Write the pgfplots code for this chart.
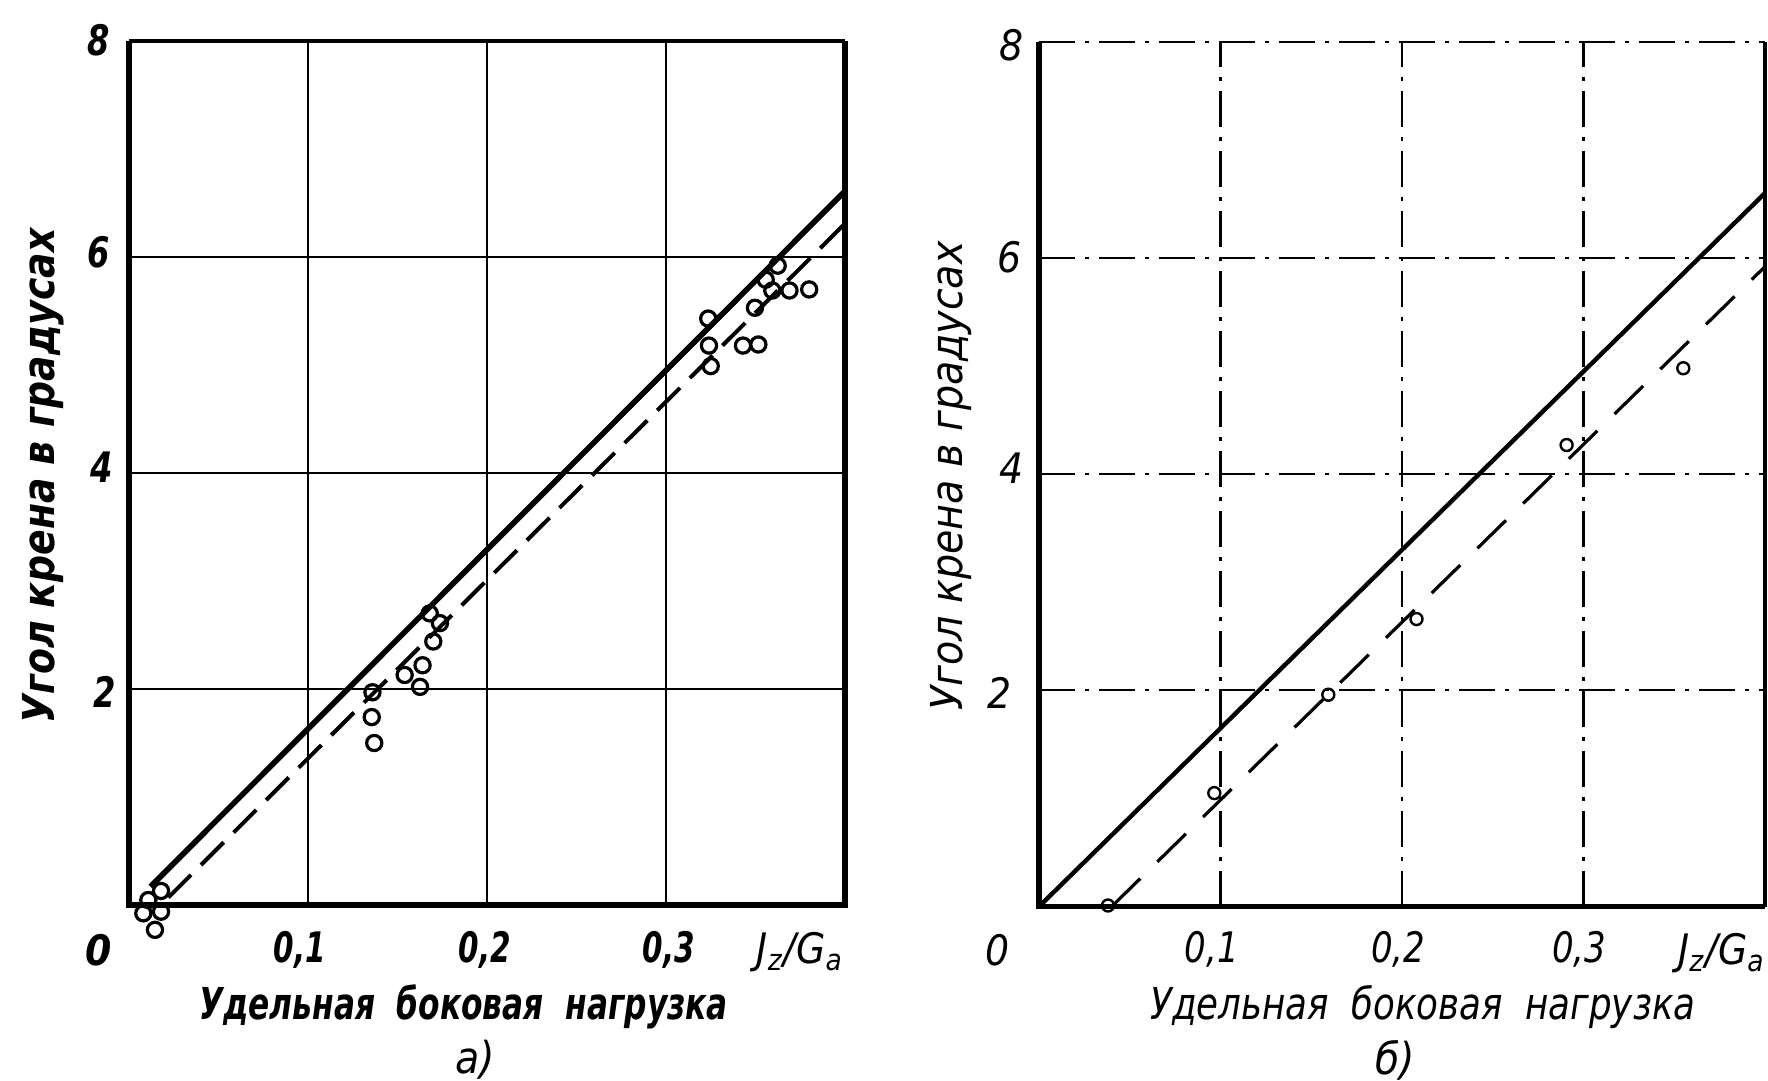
\documentclass[border=0pt]{standalone}
\usepackage{fontspec}
\setmainfont{DejaVu Sans Condensed}
\usepackage{graphicx}
\usepackage{pgfplots}
\pgfplotsset{compat=1.18}
\tikzset{dashdot/.style={dash pattern=on 9pt off 2.5pt on 1pt off 2.5pt}}
\newcommand{\nx}[2]{\scalebox{#1}[1]{#2}}
\begin{document}
\begin{tikzpicture}
\useasboundingbox (0,0) rectangle (442pt,270.25pt);
% ---------------- left panel (a) ----------------
\begin{axis}[at={(32.25pt,44pt)}, anchor=south west, scale only axis,
  width=179pt, height=216pt, xmin=0, xmax=0.4, ymin=0, ymax=8,
  xtick={0.1,0.2,0.3}, ytick={2,4,6,8}, xticklabels={}, yticklabels={},
  major tick length=0pt, grid=major, major grid style={black, line width=0.7pt},
  axis line style={draw=none}, clip=false]
\addplot[black, line width=1.4pt] coordinates {(0.012,0.17) (0.4,6.61)};
\addplot[black, line width=1pt, dash pattern=on 8pt off 3.5pt] coordinates {(0.022,0.07) (0.4,6.31)};
\addplot[only marks, mark=o, mark size=1.9pt, mark options={black, line width=0.8pt, fill=white}] coordinates {
 (0.0108,0.046) (0.0179,0.13) (0.008,-0.077) (0.0179,-0.062) (0.0145,-0.23)
 (0.168,2.70) (0.1737,2.61) (0.170,2.44) (0.164,2.22) (0.154,2.13) (0.1626,2.02)
 (0.136,1.97) (0.1356,1.74) (0.137,1.50)
 (0.3624,5.92) (0.3557,5.79) (0.3594,5.69) (0.369,5.69) (0.380,5.70) (0.3497,5.53)
 (0.3236,5.43) (0.324,5.18) (0.325,4.99) (0.343,5.18) (0.3516,5.19)};
\draw[black, line width=1.4pt] (rel axis cs:0,1) -- (rel axis cs:0,0) -- (rel axis cs:1,0) -- (rel axis cs:1,1);
\draw[black, line width=0.8pt] (rel axis cs:0,1) -- (rel axis cs:1,1);
\begin{scope}[every node/.style={font=\bfseries\itshape\fontsize{10.5}{12}\selectfont, inner sep=0pt}]
\node at (axis cs:0.0955,-0.417) {\nx{0.78}{0,1}};
\node at (axis cs:0.1989,-0.417) {\nx{0.78}{0,2}};
\node at (axis cs:0.3017,-0.417) {\nx{0.78}{0,3}};
\node at (axis cs:-0.0168,-0.417) {0};
\node at (axis cs:-0.0134,1.97) {\nx{0.85}{2}};
\node at (axis cs:-0.0154,4.05) {\nx{0.85}{4}};
\node at (axis cs:-0.0168,6.04) {\nx{0.85}{6}};
\node at (axis cs:-0.0168,8.01) {\nx{0.85}{8}};
\node[font=\itshape\fontsize{10.5}{12}\selectfont] at (axis cs:0.375,-0.44) {J\textsubscript{z}/G\textsubscript{a}};
\end{scope}
\end{axis}
% ---------------- right panel (b) ----------------
\begin{axis}[at={(259.75pt,43.6pt)}, anchor=south west, scale only axis,
  width=181.5pt, height=216.2pt, xmin=0, xmax=0.4, ymin=0, ymax=8,
  xtick={0.1,0.2,0.3}, ytick={2,4,6}, xticklabels={}, yticklabels={},
  major tick length=0pt, grid=major, major grid style={black, line width=0.55pt, dashdot},
  axis line style={draw=none}, clip=false]
\addplot[black, line width=1.1pt] coordinates {(0,0) (0.4,6.6)};
\addplot[black, line width=0.8pt, dash pattern=on 10pt off 6pt] coordinates {(0.04,0) (0.4,5.92)};
\addplot[only marks, mark=o, mark size=1.5pt, mark options={black, line width=0.6pt, fill=white}] coordinates {
 (0.038,0.01) (0.0966,1.05) (0.1594,1.96) (0.208,2.66) (0.2907,4.27) (0.355,4.98)};
\draw[black, line width=1.3pt] (rel axis cs:0,1) -- (rel axis cs:0,0) -- (rel axis cs:1,0);
\draw[black, line width=1pt] (rel axis cs:1,0) -- (rel axis cs:1,1);
\draw[black, line width=0.55pt, dashdot] (rel axis cs:0,1) -- (rel axis cs:1,1);
\begin{scope}[every node/.style={font=\itshape\fontsize{10.5}{12}\selectfont, inner sep=0pt}]
\node at (axis cs:0.0953,-0.40) {\nx{0.9}{0,1}};
\node at (axis cs:0.198,-0.40) {\nx{0.9}{0,2}};
\node at (axis cs:0.2977,-0.40) {\nx{0.9}{0,3}};
\node at (axis cs:-0.0231,-0.40) {0};
\node at (axis cs:-0.0215,1.98) {2};
\node at (axis cs:-0.0154,4.06) {4};
\node at (axis cs:-0.016,6.01) {6};
\node at (axis cs:-0.0154,7.97) {8};
\node at (axis cs:0.3763,-0.43) {J\textsubscript{z}/G\textsubscript{a}};
\end{scope}
\end{axis}
% ---------------- axis titles ----------------
\node[rotate=90, font=\bfseries\itshape\fontsize{11}{13}\selectfont] at (10.75pt,151.25pt) {\nx{0.955}{Угол крена в градусах}};
\node[font=\bfseries\itshape\fontsize{11}{13}\selectfont] at (115.9pt,18.5pt) {\nx{0.79}{Удельная\ \ боковая\ \ нагрузка}};
\node[font=\itshape\fontsize{11}{13}\selectfont] at (118.75pt,5.25pt) {а)};
\node[rotate=90, font=\itshape\fontsize{11}{13}\selectfont] at (237.65pt,151.25pt) {Угол крена в градусах};
\node[font=\itshape\fontsize{11}{13}\selectfont] at (355.75pt,18.5pt) {\nx{0.9}{Удельная\ \ боковая\ \ нагрузка}};
\node[font=\itshape\fontsize{11}{13}\selectfont] at (348.75pt,5.25pt) {б)};
\end{tikzpicture}
\end{document}
